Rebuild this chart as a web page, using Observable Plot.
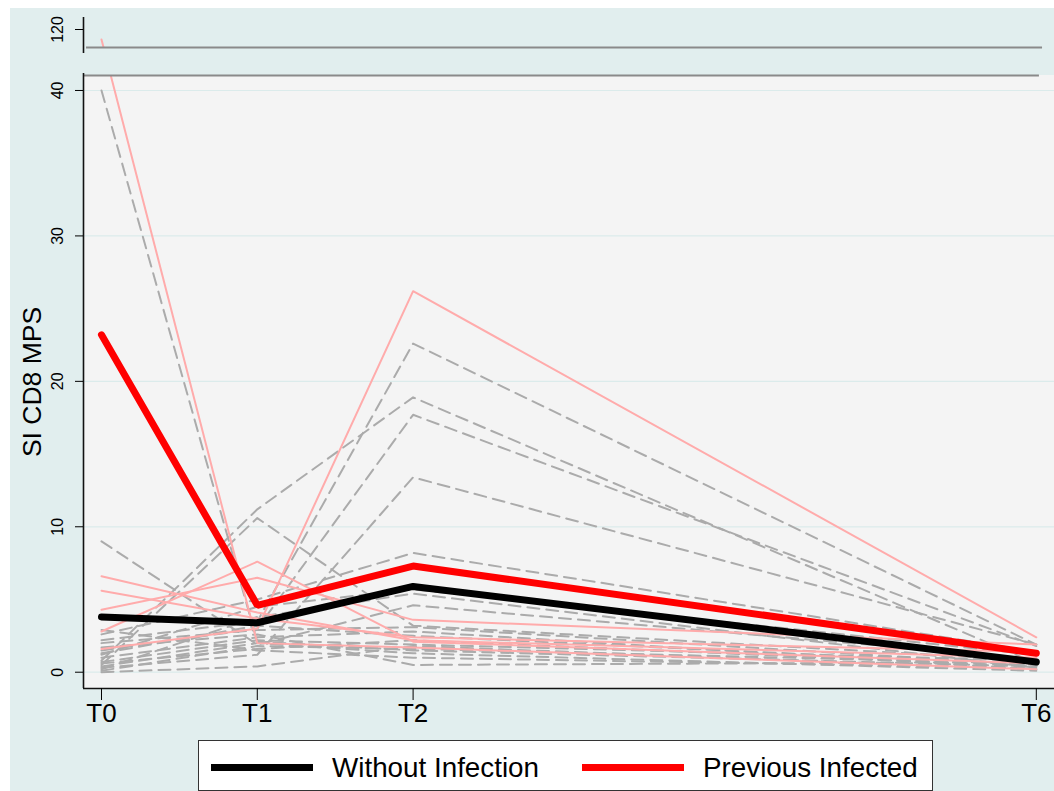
<!DOCTYPE html>
<html>
<head>
<meta charset="utf-8">
<script src="https://cdn.jsdelivr.net/npm/d3@7"></script>
<script src="https://cdn.jsdelivr.net/npm/@observablehq/plot@0.6"></script>
<style>
  body { margin: 0; background: #fff; font-family: "Liberation Sans", Arial, sans-serif; }
  #wrap { position: relative; width: 1054px; height: 791px; overflow: hidden; background: #fff; }
  #bg { position: absolute; left: 10px; top: 8px; right: 0; bottom: 0; background: #e1eeee; }
  #chart { position: absolute; left: 0; top: 0; }
  #ytitle { position: absolute; left: 32px; top: 382px; transform: translate(-50%, -50%) rotate(-90deg);
            font-size: 26.5px; white-space: nowrap; color: #000; }
  #legend { position: absolute; left: 198px; top: 740px; width: 733px; height: 49px; background: #fff;
            border: 1px solid #333; }
  .sw { position: absolute; top: 23px; width: 102px; height: 7px; }
  .lt { position: absolute; top: 13px; font-size: 27.8px; line-height: 27px; white-space: nowrap; color: #000; }
</style>
</head>
<body>
<div id="wrap">
  <div id="bg"></div>
  <div id="chart"></div>
  <div id="ytitle">SI CD8 MPS</div>
  <div id="legend">
    <div class="sw" style="left:12px;background:#000"></div>
    <div class="lt" style="left:133px">Without Infection</div>
    <div class="sw" style="left:383px;background:#ff0000"></div>
    <div class="lt" style="left:504px">Previous Infected</div>
  </div>
</div>
<script>
// ---- data ----
const timeLabels = ["T0", "T1", "T2", "T6"];
const timeValues = [0, 1, 2, 6];
const yTickValues = [0, 10, 20, 30, 40, 120];

// group means
const meanWithoutInfection = [3.8, 3.4, 5.9, 0.7];
const meanPreviousInfected = [23.2, 4.6, 7.3, 1.3];

// individual trajectories, group "Without Infection" (values at T0, T1, T2, T6)
const withoutInfection = [
  [40.0, 2.1, 1.5, 0.4],
  [9.0, 1.9, 4.6, 0.9],
  [0.8, 11.2, 18.9, 0.6],
  [0.5, 10.6, 3.2, 0.8],
  [2.2, 3.5, 22.6, 1.9],
  [1.5, 3.0, 17.7, 1.8],
  [0.3, 1.2, 13.4, 1.9],
  [2.6, 5.0, 8.2, 1.4],
  [1.2, 4.5, 5.7, 1.2],
  [0.2, 3.8, 5.4, 0.3],
  [2.0, 2.9, 3.1, 0.5],
  [1.0, 2.4, 2.8, 0.2],
  [0.1, 1.8, 1.6, 0.6],
  [0.6, 1.6, 2.2, 0.4],
  [0.4, 2.0, 1.3, 0.1],
  [1.7, 2.6, 0.5, 0.7],
  [0.0, 0.4, 1.8, 0.2],
  [2.9, 1.5, 1.0, 0.3],
  [1.3, 3.2, 2.5, 0.5],
  [0.7, 2.2, 1.9, 0.8]
];

// individual trajectories, group "Previous Infected"
const previousInfected = [
  [118.0, 2.0, 1.7, 0.2],
  [6.6, 4.1, 2.2, 1.0],
  [5.6, 3.7, 2.4, 1.4],
  [4.3, 6.5, 3.6, 1.9],
  [2.8, 7.6, 2.1, 0.6],
  [1.6, 3.0, 26.2, 2.4]
];

// ---- build tidy rows ----
const toRows = (series, prefix) => series.flatMap((vals, i) =>
  vals.map((v, j) => ({id: prefix + i, t: timeValues[j], v})));
const withoutRows = toRows(withoutInfection, "w");
const previousRows = toRows(previousInfected, "p");
const meanWRows = meanWithoutInfection.map((v, j) => ({t: timeValues[j], v}));
const meanPRows = meanPreviousInfected.map((v, j) => ({t: timeValues[j], v}));

// ---- broken (piecewise) y axis ----
const yBottom = -1.12, yLowTop = 41.03, yHighBottom = 115.2, yTop = 122.4, yBreakLine = 116.4;
const xLo = -0.1155, xHi = 6.1168;
const bg = "#e1eeee";

const chart = Plot.plot({
  width: 1054,
  height: 740,
  marginLeft: 83,
  marginRight: 0,
  marginTop: 17,
  marginBottom: 52,
  style: {background: "transparent", fontFamily: "Liberation Sans, Arial, sans-serif", color: "#000"},
  x: {type: "linear", domain: [xLo, xHi], range: [83, 1054]},
  y: {type: "linear", domain: [yBottom, yLowTop, yHighBottom, yTop], range: [688, 75, 53, 17]},
  marks: [
    // lower plot region fill
    Plot.rect([0], {x1: xLo, x2: xHi, y1: yBottom, y2: yLowTop, fill: "#f4f4f4"}),
    // gridlines
    Plot.ruleY([0, 10, 20, 30, 40], {x1: xLo, x2: xHi, stroke: "#dbebeb", strokeWidth: 1.2}),
    // individual lines
    Plot.line(withoutRows, {x: "t", y: "v", z: "id", stroke: "#ababab", strokeWidth: 2, strokeDasharray: "12,7"}),
    Plot.line(previousRows, {x: "t", y: "v", z: "id", stroke: "#ffabab", strokeWidth: 2}),
    // means
    Plot.line(meanWRows, {x: "t", y: "v", stroke: "#000", strokeWidth: 7, strokeLinejoin: "miter"}),
    Plot.line(meanPRows, {x: "t", y: "v", stroke: "#ff0000", strokeWidth: 7, strokeLinejoin: "miter"}),
    // the gap between the two panels
    Plot.rect([0], {x1: xLo, x2: xHi, y1: yLowTop, y2: yBreakLine, fill: bg}),
    // break lines
    Plot.ruleY([yBreakLine], {x1: -0.096, x2: 6.04, stroke: "#8a8a8a", strokeWidth: 2}),
    Plot.ruleY([yLowTop], {x1: xLo, x2: 6.02, stroke: "#8a8a8a", strokeWidth: 2}),
    // axis lines
    Plot.ruleX([xLo], {y1: yBottom, y2: 47.8, stroke: "#111", strokeWidth: 1.6}),
    Plot.ruleX([xLo], {y1: yHighBottom, y2: yTop, stroke: "#111", strokeWidth: 1.6}),
    Plot.ruleY([yBottom], {x1: xLo, x2: xHi, stroke: "#111", strokeWidth: 1.6}),
    // axes
    Plot.axisY({ticks: yTickValues, tickSize: 8, label: null, tickFormat: () => ""}),
    Plot.text(yTickValues, {x: xLo, y: d => d, text: d => String(d), rotate: -90, dx: -26,
                            fontSize: 16, fill: "#000"}),
    Plot.axisX({ticks: timeValues, tickSize: 12, tickPadding: 3, fontSize: 26,
                tickFormat: d => timeLabels[timeValues.indexOf(d)], label: null})
  ]
});
document.getElementById("chart").appendChild(chart);
</script>
</body>
</html>
